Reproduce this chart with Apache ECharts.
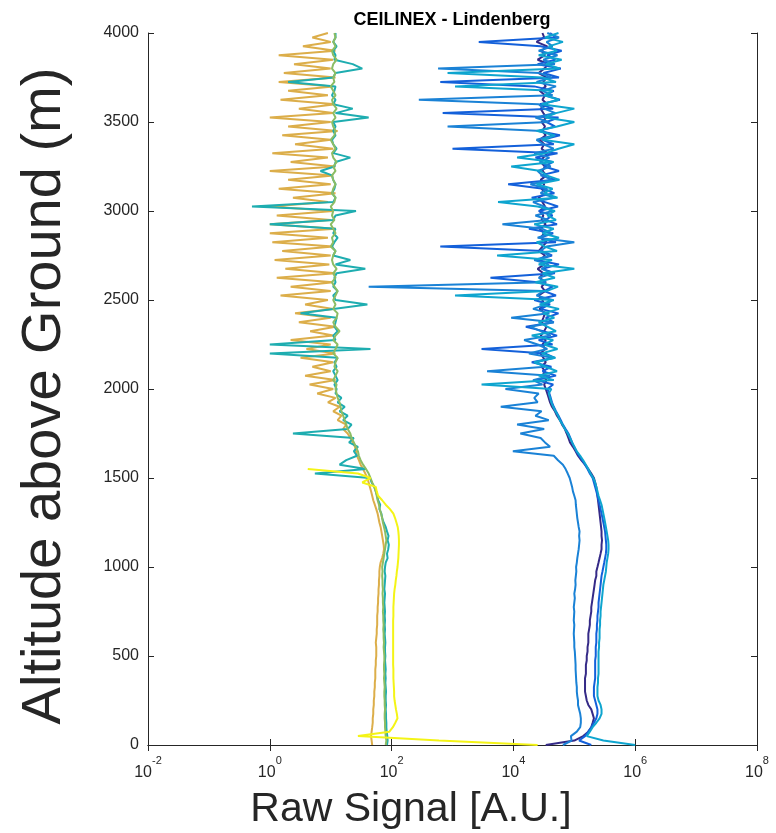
<!DOCTYPE html>
<html>
<head>
<meta charset="utf-8">
<script src="https://cdn.jsdelivr.net/npm/echarts@6/dist/echarts.min.js"></script>
<style>html,body{margin:0;padding:0;background:#fff}#chart{width:776px;height:833px}</style>
</head>
<body>
<div id="chart"></div>
<script>
// Range-gate altitudes (m), 25 m steps from 0 to 4000 m
const altitudeStep = 25;
const altitudes = Array.from({length: 161}, (_, i) => i * altitudeStep);

const chartTitle = 'CEILINEX - Lindenberg';
const xAxisTitle = 'Raw Signal [A.U.]';
const yAxisTitle = 'Altitude above Ground (m)';
const xMin = 1e-2, xMax = 1e8;
const xTickValues = [1e-2, 1e0, 1e2, 1e4, 1e6, 1e8];
const yMin = 0, yMax = 4000, yStep = 500;

// Raw signal profiles [A.U.], one value per altitude gate
const navySignal = [
 3.4e4, 1.0e5, 1.4e5, 1.7e5, 1.9e5, 2.0e5, 2.1e5, 2.0e5, 1.9e5, 1.7e5,
 1.6e5, 1.55e5, 1.5e5, 1.5e5, 1.5e5, 1.5e5, 1.55e5, 1.55e5, 1.55e5, 1.6e5,
 1.6e5, 1.65e5, 1.65e5, 1.7e5, 1.7e5, 1.7e5, 1.75e5, 1.8e5, 1.8e5, 1.85e5,
 1.9e5, 1.9e5, 1.95e5, 2.0e5, 2.05e5, 2.1e5, 2.15e5, 2.2e5, 2.3e5, 2.3e5,
 2.4e5, 2.5e5, 2.6e5, 2.7e5, 2.8e5, 2.8e5, 2.85e5, 2.8e5, 2.8e5, 2.75e5,
 2.7e5, 2.65e5, 2.6e5, 2.55e5, 2.5e5, 2.45e5, 2.4e5, 2.35e5, 2.3e5, 2.2e5,
 2.1e5, 1.9e5, 1.7e5, 1.5e5, 1.3e5, 1.15e5, 1.05e5, 9.5e4, 8.5e4, 8.0e4,
 7.5e4, 7.0e4, 6.3e4, 5.8e4, 5.2e4, 4.8e4, 4.3e4, 4.0e4, 3.8e4, 3.6e4,
 3.4e4, 3.2e4, 3.5e4, 3.0e4, 3.3e4, 2.9e4, 3.4e4, 3.1e4, 2.8e4, 3.3e4,
 3.0e4, 3.4e4, 2.8e4, 3.2e4, 3.5e4, 2.9e4, 3.1e4, 3.3e4, 2.7e4, 3.2e4,
 3.0e4, 2.6e4, 3.3e4, 2.9e4, 3.4e4, 2.7e4, 3.1e4, 2.5e4, 3.2e4, 2.8e4,
 3.3e4, 2.6e4, 3.0e4, 3.5e4, 2.8e4, 3.2e4, 2.7e4, 3.4e4, 2.9e4, 3.1e4,
 2.7e4, 3.3e4, 3.0e4, 2.6e4, 3.4e4, 2.9e4, 3.2e4, 2.8e4, 3.5e4, 3.0e4,
 3.3e4, 2.8e4, 3.1e4, 3.6e4, 2.9e4, 3.2e4, 2.7e4, 3.4e4, 3.0e4, 3.3e4,
 2.9e4, 3.5e4, 3.1e4, 2.8e4, 3.6e4, 3.0e4, 3.3e4, 2.7e4, 3.4e4, 3.1e4,
 3.5e4, 2.6e4, 3.2e4, 3.8e4, 2.5e4, 3.3e4, 2.9e4, 3.6e4, 2.4e4, 3.2e4,
 3.0e4
];

const blueSignal = [
 1.9e5, 1.2e5, 1.5e5, 1.7e5, 1.9e5, 2.1e5, 2.3e5, 2.4e5, 2.4e5, 2.3e5,
 2.2e5, 2.1e5, 2.1e5, 2.1e5, 2.15e5, 2.2e5, 2.2e5, 2.2e5, 2.2e5, 2.2e5,
 2.25e5, 2.25e5, 2.25e5, 2.3e5, 2.3e5, 2.3e5, 2.35e5, 2.35e5, 2.4e5, 2.4e5,
 2.45e5, 2.5e5, 2.5e5, 2.55e5, 2.6e5, 2.65e5, 2.7e5, 2.75e5, 2.8e5, 2.9e5,
 3.0e5, 3.1e5, 3.2e5, 3.3e5, 3.35e5, 3.35e5, 3.3e5, 3.25e5, 3.2e5, 3.1e5,
 3.0e5, 2.9e5, 2.8e5, 2.7e5, 2.6e5, 2.5e5, 2.4e5, 2.3e5, 2.2e5, 2.1e5,
 2.0e5, 1.8e5, 1.65e5, 1.5e5, 1.35e5, 1.2e5, 1.08e5, 1.0e5, 9.2e4, 8.6e4,
 8.0e4, 7.2e4, 6.5e4, 6.0e4, 5.5e4, 5.0e4, 4.6e4, 4.3e4, 4.1e4, 3.9e4,
 3.6e4, 4.5e4, 2.4e4, 5.0e4, 3.0e4, 4.2e4, 2.0e4, 4.8e4, 3.3e4, 3.0e3,
 4.4e4, 2.6e4, 5.2e4, 3.1e4, 1.6e4, 4.6e4, 3.4e4, 5.5e4, 2.8e4, 4.0e4,
 2.2e4, 5.0e4, 3.2e4, 4.4e4, 2.5e4, 4.2e3, 4.8e4, 3.0e4, 5.6e4, 2.4e4,
 4.3e4, 3.0e4, 6.3e2, 5.0e4, 2.7e4, 4.5e4, 1.8e4, 5.2e4, 3.4e4, 4.4e4,
 2.6e4, 5.4e4, 3.3e4, 2.0e4, 4.7e4, 3.1e4, 8.2e3, 4.9e4, 2.8e4, 5.6e4,
 3.2e4, 4.4e4, 2.3e4, 5.3e4, 1.0e3, 4.6e4, 3.0e4, 5.8e4, 2.6e4, 4.8e4,
 3.5e4, 5.5e4, 6.9e2, 4.5e4, 2.7e4, 5.8e4, 3.3e4, 4.6e4, 2.2e4, 6.3e2,
 5.6e4, 3.1e4, 6.0e4, 2.5e4, 4.9e4, 3.6e4, 6.2e4, 2.8e4, 2.7e3, 5.0e4,
 4.0e4
];

const midBlueSignal = [
 6.5e4, 9.0e4, 8.8e4, 1.1e5, 1.25e5, 1.28e5, 1.28e5, 1.25e5, 1.2e5, 1.15e5,
 1.15e5, 1.12e5, 1.1e5, 1.1e5, 1.08e5, 1.07e5, 1.06e5, 1.05e5, 1.05e5, 1.04e5,
 1.03e5, 1.02e5, 1.0e5, 1.0e5, 9.9e4, 9.8e4, 9.9e4, 1.0e5, 9.8e4, 9.9e4,
 1.0e5, 9.8e4, 1.0e5, 1.02e5, 1.0e5, 1.03e5, 1.05e5, 1.04e5, 1.06e5, 1.08e5,
 1.07e5, 1.1e5, 1.12e5, 1.15e5, 1.18e5, 1.2e5, 1.22e5, 1.2e5, 1.22e5, 1.18e5,
 1.15e5, 1.12e5, 1.1e5, 1.08e5, 1.06e5, 1.05e5, 1.0e5, 9.5e4, 9.2e4, 8.8e4,
 8.4e4, 7.8e4, 7.2e4, 6.5e4, 5.4e4, 4.6e4, 9.8e3, 4.0e4, 3.3e4, 2.8e4,
 1.3e4, 3.2e4, 1.15e4, 3.8e4, 2.3e4, 2.9e4, 6.2e3, 2.5e4, 2.2e4, 2.6e4,
 7.4e3, 3.0e4, 2.1e4, 4.0e4, 3.7e3, 3.3e4, 2.4e4, 4.4e4, 1.8e4, 3.6e4,
 2.5e4, 1.5e4, 4.1e4, 2.8e4, 1.9e4, 4.6e4, 9.2e3, 3.9e4, 2.1e4, 3.5e4,
 4.3e4, 2.4e4, 3.1e4, 42, 3.4e4, 2.6e4, 4.5e4, 2.9e4, 3.8e4, 2.2e4,
 4.0e4, 2.7e4, 3.5e4, 1.0e5, 2.5e4, 4.2e4, 3.0e4, 6.6e3, 3.7e4, 2.3e4,
 4.4e4, 3.2e4, 2.1e4, 4.7e4, 2.8e4, 3.6e4, 1.9e4, 4.3e4, 3.0e4, 2.5e4,
 4.1e4, 2.7e4, 3.9e4, 2.2e4, 4.6e4, 3.1e4, 2.4e4, 4.5e4, 2.9e4, 8.3e2,
 3.8e4, 2.3e4, 4.9e4, 3.2e4, 2.6e4, 2.8e2, 4.4e4, 3.0e4, 5.0e4, 2.4e4,
 4.2e4, 2.7e4, 5.8e2, 4.8e4, 3.1e4, 5.3e4, 2.6e4, 4.4e4, 3.5e4, 5.6e4,
 3.6e4
];

const cyanSignal = [
 1.0e6, 3.0e5, 1.6e5, 1.8e5, 2.0e5, 2.3e5, 2.6e5, 2.8e5, 2.8e5, 2.7e5,
 2.5e5, 2.4e5, 2.4e5, 2.4e5, 2.45e5, 2.45e5, 2.5e5, 2.5e5, 2.5e5, 2.5e5,
 2.5e5, 2.5e5, 2.55e5, 2.55e5, 2.6e5, 2.6e5, 2.6e5, 2.65e5, 2.65e5, 2.7e5,
 2.7e5, 2.75e5, 2.8e5, 2.85e5, 2.9e5, 2.95e5, 3.0e5, 3.1e5, 3.2e5, 3.3e5,
 3.35e5, 3.4e5, 3.5e5, 3.6e5, 3.65e5, 3.65e5, 3.6e5, 3.5e5, 3.4e5, 3.3e5,
 3.2e5, 3.1e5, 3.0e5, 2.9e5, 2.8e5, 2.65e5, 2.5e5, 2.4e5, 2.3e5, 2.2e5,
 2.05e5, 1.85e5, 1.7e5, 1.55e5, 1.4e5, 1.25e5, 1.1e5, 1.0e5, 9.2e4, 8.5e4,
 7.8e4, 7.0e4, 6.4e4, 5.8e4, 5.4e4, 4.9e4, 4.5e4, 4.2e4, 4.0e4, 3.8e4,
 4.2e4, 3.0e3, 4.6e4, 2.6e4, 5.2e4, 3.4e4, 2.2e4, 4.9e4, 2.9e4, 5.3e4,
 3.2e4, 4.5e4, 2.0e4, 5.0e4, 3.6e4, 2.6e4, 4.7e4, 3.1e4, 5.6e4, 2.7e4,
 4.6e4, 1.1e3, 3.5e4, 5.4e4, 2.3e4, 4.8e4, 3.0e4, 1.0e5, 2.6e4, 4.3e4,
 5.4e3, 5.2e4, 3.3e4, 2.4e4, 5.6e4, 3.0e4, 4.6e4, 2.2e4, 5.0e4, 3.6e4,
 4.8e4, 2.5e4, 5.6e3, 5.3e4, 3.2e4, 4.4e4, 2.4e4, 5.7e4, 3.5e4, 2.8e4,
 9.2e3, 4.6e4, 1.15e4, 3.4e4, 5.5e4, 1.0e5, 3.0e4, 4.8e4, 2.4e4, 5.2e4,
 1.0e5, 3.3e4, 5.0e4, 1.0e5, 2.9e4, 5.6e4, 3.2e4, 4.4e4, 1.1e3, 5.0e4,
 3.0e4, 8.3e2, 5.8e4, 3.4e4, 6.2e4, 2.6e4, 5.2e4, 3.8e4, 6.5e4, 3.3e4,
 5.5e4
];

const tealSignal = [
 84, 86, 85, 83, 82, 82, 81, 81, 80, 81,
 80, 80, 81, 80, 79, 80, 79, 80, 79, 78,
 79, 78, 78, 79, 78, 77, 78, 77, 78, 77,
 78, 77, 76, 77, 78, 76, 77, 78, 79, 77,
 78, 80, 86, 84, 88, 90, 86, 89, 84, 80,
 74, 70, 68, 63, 65, 60, 58, 55, 52, 47,
 44, 5.5, 38, 14, 18, 27, 24, 28, 20, 24,
 2.4, 19, 22, 16, 19, 14, 17, 13, 15, 12,
 12.5, 11.5, 13, 12, 11, 12.5, 11.5, 13, 1.0, 45,
 1.0, 12, 11, 13, 11.5, 12, 12.5, 3.2, 11, 40,
 12, 11, 13, 11, 12, 11.5, 12.5, 37, 12, 21,
 11, 12, 10.5, 11.5, 13, 11, 12, 1.0, 11, 12,
 26, 0.51, 11, 12, 10.5, 11.5, 12, 11, 10.5, 6.8,
 11.5, 12, 21, 11, 12.5, 11, 10.5, 12, 11, 12,
 11, 42, 12, 23, 11, 12, 10.5, 11.5, 12, 2.0,
 11, 12, 33, 23, 11.5, 12, 11, 12.5, 11, 12,
 12
];

const greenSignal = [
 80, 82, 80, 79, 78, 78, 77, 77, 78, 77,
 77, 76, 76, 77, 76, 75, 76, 75, 75, 76,
 76, 75, 74, 75, 74, 74, 73, 74, 73, 73,
 72, 73, 72, 72, 71, 72, 71, 71, 70, 71,
 70, 72, 74, 76, 78, 80, 82, 80, 78, 75,
 72, 70, 67, 64, 62, 59, 57, 55, 52, 48,
 45, 42, 38, 34, 31, 29, 28, 26, 24, 22,
 21, 19, 18, 17, 16, 15, 14.5, 14, 13, 12.5,
 12, 12.5, 11, 12, 13, 11.5, 12, 13, 11, 12,
 13, 11, 12, 14, 12, 11, 12.5, 13, 11, 12,
 11, 12, 13, 11.5, 10.5, 12, 11, 12.5, 11, 10.5,
 11, 12, 10, 11, 10.5, 12, 11, 10, 11.5, 10.5,
 11, 10, 11.5, 12, 10.5, 11, 12, 11, 10.5, 12,
 11, 12.5, 11, 10.5, 12, 11, 10, 11.5, 12, 11,
 10.5, 12, 11, 12.5, 11, 10.5, 12, 11, 10, 11.5,
 11, 12, 10.5, 11, 12.5, 11, 10.5, 12, 11, 12,
 11.5
];

const orangeSignal = [
 48, 47, 46, 47, 48, 49, 49, 50, 50, 51,
 51, 52, 52, 53, 53, 54, 54, 54, 55, 55,
 56, 56, 56, 55, 56, 57, 57, 58, 58, 58,
 59, 59, 60, 60, 61, 61, 62, 62, 63, 63,
 64, 66, 70, 73, 75, 74, 72, 70, 68, 66,
 63, 61, 59, 56, 53, 50, 48, 46, 44, 42,
 40, 37, 34, 31, 29, 27, 26, 25, 23, 21,
 19, 16, 18, 13, 15, 11, 14, 9, 12, 6,
 11, 4.5, 12, 3.8, 10, 5, 11, 3.2, 12, 4,
 10, 2.2, 11, 4.6, 12, 3.0, 10, 2.6, 11, 3.8,
 9, 1.5, 10, 2.2, 11, 1.3, 12, 1.8, 9.5, 1.2,
 10, 1.6, 11, 1.1, 9, 1.0, 12, 1.0, 10, 1.3,
 11, 1.0, 9, 2.4, 12, 1.4, 10, 2.0, 11, 1.0,
 12, 2.2, 9, 1.1, 11, 2.6, 10, 1.6, 13, 2.0,
 10, 1.0, 11, 3.0, 12, 1.5, 9, 2.0, 11, 1.4,
 12, 1.7, 10, 2.5, 11, 1.4, 12, 3.5, 10, 5,
 9
];

// Yellow profile only reaches ~1550 m
const yellowSignal = [
 2.5e4, 600, 28, 92, 105, 115, 125, 122, 118, 115,
 112, 110, 110, 109, 108, 107, 107, 107, 106, 106,
 106, 106, 106, 106, 106, 106, 106, 106, 106, 107,
 107, 107, 108, 109, 110, 112, 115, 117, 120, 122,
 125, 127, 129, 130, 131, 132, 132, 131, 129, 126,
 120, 114, 107, 94, 80, 70, 60, 57, 55, 33,
 45, 28, 4.2
];

// Drawing order (first drawn is underneath)
const profiles = [
  { name: 'Profile 1', color: '#352a87', values: navySignal },
  { name: 'Profile 2', color: '#1360da', values: blueSignal },
  { name: 'Profile 3', color: '#1a82d6', values: midBlueSignal },
  { name: 'Profile 4', color: '#0ea5cf', values: cyanSignal },
  { name: 'Profile 7', color: '#dcae4a', values: orangeSignal },
  { name: 'Profile 5', color: '#1eadb0', values: tealSignal },
  { name: 'Profile 6', color: '#8cbd64', values: greenSignal },
  { name: 'Profile 8', color: '#f4f416', values: yellowSignal }
];

const axisColor = '#262626';
const fontFam = '"Liberation Sans", Arial, Helvetica, sans-serif';

function toPairs(vals) {
  return vals.map((v, i) => [v, altitudes[i]]);
}

const series = profiles.map(p => ({
  name: p.name,
  type: 'line',
  data: toPairs(p.values),
  showSymbol: false,
  symbol: 'none',
  smooth: false,
  clip: true,
  animation: false,
  xAxisIndex: 0,
  yAxisIndex: 0,
  lineStyle: { width: 2, color: p.color },
  itemStyle: { color: p.color },
  emphasis: { disabled: true }
}));

const chart = echarts.init(document.getElementById('chart'), null, { renderer: 'canvas' });

const commonLine = { show: true, lineStyle: { color: axisColor, width: 1 } };
const xTick = { show: true, inside: true, length: 6, customValues: xTickValues, lineStyle: { color: axisColor, width: 1 } };
const yTick = { show: true, inside: true, length: 6, lineStyle: { color: axisColor, width: 1 } };

chart.setOption({
  animation: false,
  backgroundColor: '#ffffff',
  grid: { left: 148, right: 19, top: 33, bottom: 88, containLabel: false },
  xAxis: [
    {
      type: 'log', logBase: 10, min: xMin, max: xMax,
      position: 'bottom',
      axisLine: commonLine, axisTick: xTick,
      splitLine: { show: false }, minorTick: { show: false },
      axisLabel: {
        margin: 10,
        customValues: xTickValues,
        formatter: v => '{b|10}{s|' + Math.round(Math.log10(v)) + '}',
        rich: {
          b: { fontSize: 16, fontFamily: fontFam, color: axisColor, lineHeight: 26, verticalAlign: 'bottom' },
          s: { fontSize: 11, fontFamily: fontFam, color: axisColor, lineHeight: 10, verticalAlign: 'top' }
        }
      }
    },
    {
      type: 'log', logBase: 10, min: xMin, max: xMax,
      position: 'top',
      axisLine: commonLine, axisTick: xTick,
      splitLine: { show: false }, axisLabel: { show: false }
    }
  ],
  yAxis: [
    {
      type: 'value', min: yMin, max: yMax, interval: yStep,
      position: 'left',
      axisLine: commonLine, axisTick: yTick,
      splitLine: { show: false },
      axisLabel: { fontSize: 16, fontFamily: fontFam, color: axisColor, margin: 9, formatter: v => String(v) }
    },
    {
      type: 'value', min: yMin, max: yMax, interval: yStep,
      position: 'right',
      axisLine: commonLine, axisTick: yTick,
      splitLine: { show: false }, axisLabel: { show: false }
    }
  ],
  graphic: [
    {
      type: 'text', x: 452, y: 20,
      style: { text: chartTitle, fontSize: 18, fontWeight: 'bold', fontFamily: fontFam, fill: '#000', align: 'center', verticalAlign: 'middle' }
    },
    {
      type: 'text', x: 411, y: 810,
      style: { text: xAxisTitle, fontSize: 41, fontFamily: fontFam, fill: axisColor, align: 'center', verticalAlign: 'middle' }
    },
    {
      type: 'text', x: 45, y: 396, rotation: Math.PI / 2,
      style: { text: yAxisTitle, fontSize: 56, fontFamily: fontFam, fill: axisColor, align: 'center', verticalAlign: 'middle' }
    }
  ],
  series: series
});
</script>
</body>
</html>
